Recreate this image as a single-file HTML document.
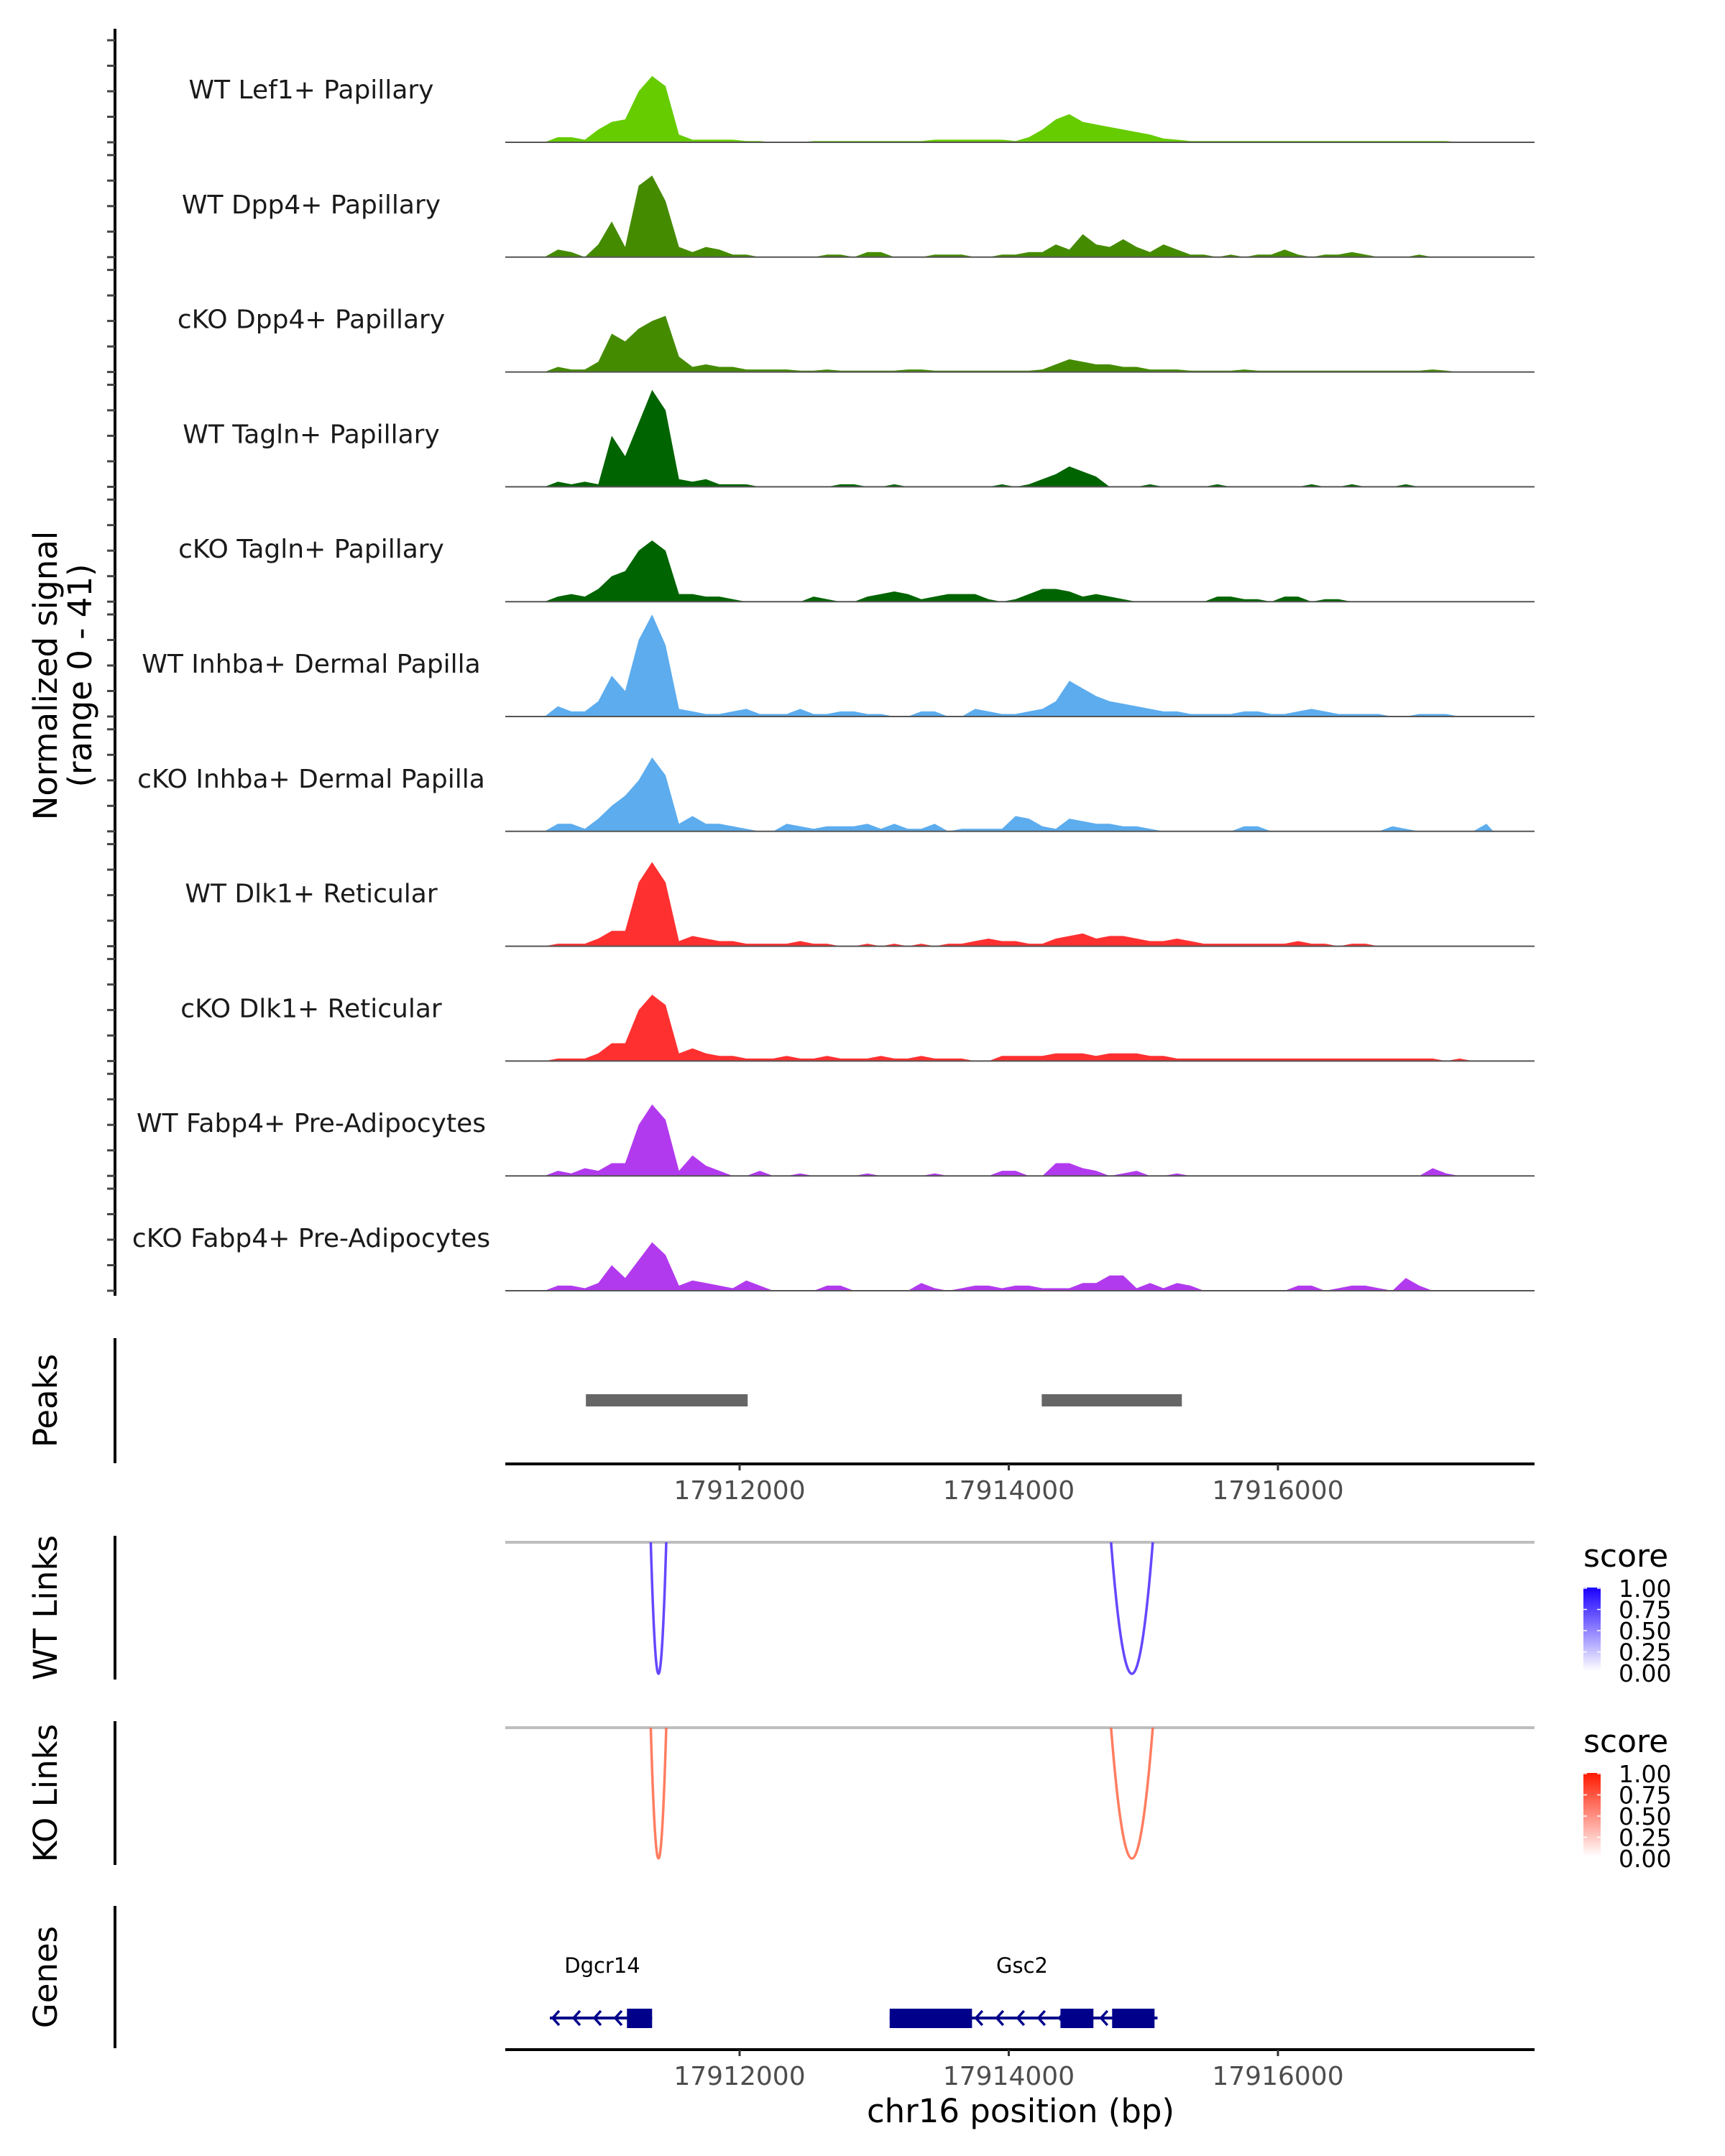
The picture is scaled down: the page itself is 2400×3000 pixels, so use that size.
<!DOCTYPE html>
<html><head><meta charset="utf-8"><style>
html,body{margin:0;padding:0;background:#fff}
svg{display:block;font-family:"DejaVu Sans","Liberation Sans",sans-serif}
</style></head><body>
<svg id="c" width="2400" height="3000" viewBox="0 0 2400 3000" xmlns="http://www.w3.org/2000/svg"></svg>
<script>
const binStart = 17910500;
const binSize = 100;
const trackNames = ["WT Lef1+ Papillary","WT Dpp4+ Papillary","cKO Dpp4+ Papillary","WT Tagln+ Papillary","cKO Tagln+ Papillary","WT Inhba+ Dermal Papilla","cKO Inhba+ Dermal Papilla","WT Dlk1+ Reticular","cKO Dlk1+ Reticular","WT Fabp4+ Pre-Adipocytes","cKO Fabp4+ Pre-Adipocytes"];
const trackColors = ["#66cc00","#458b00","#458b00","#006400","#006400","#5cacee","#5cacee","#ff3030","#ff3030","#b23aee","#b23aee"];
const sigLef1 = [0,2,2,1,5,8,9,20,26,22,3,1,1,1,1,0.5,0.5,0,0,0,0.5,0.5,0.5,0.5,0.5,0.5,0.5,0.5,0.5,1,1,1,1,1,1,0.5,2,5,9,11,8,7,6,5,4,3,1.5,1,0.5,0.5,0.5,0.5,0.5,0.5,0.5,0.5,0.5,0.5,0.5,0.5,0.5,0.5,0.5,0.5,0.5,0.5,0.5,0.5,0,0,0];
const sigWTDpp4 = [0,3,2,0,5,14,4,28,32,22,4,2,4,3,1,1,0,0,0,0,0,1,1,0,2,2,0,0,0,1,1,1,0,0,1,1,2,2,5,3,9,5,4,7,4,2,5,3,1,1,0,1,0,1,1,3,1,0,1,1,2,1,0,0,0,1,0,0,0,0,0];
const sigKODpp4 = [0,2,1,1,4,15,12,17,20,22,6,2,3,2,2,1,1,1,1,0.5,0.5,1,0.5,0.5,0.5,0.5,0.5,1,1,0.5,0.5,0.5,0.5,0.5,0.5,0.5,0.5,1,3,5,4,3,3,2,2,1,1,1,0.5,0.5,0.5,0.5,1,0.5,0.5,0.5,0.5,0.5,0.5,0.5,0.5,0.5,0.5,0.5,0.5,0.5,1,0.5,0,0,0];
const sigWTTagln = [0,2,1,2,1,20,12,25,38,30,3,2,3,1,1,1,0,0,0,0,0,0,1,1,0,0,1,0,0,0,0,0,0,0,1,0,1,3,5,8,6,4,0,0,0,1,0,0,0,0,1,0,0,0,0,0,0,1,0,0,1,0,0,0,1,0,0,0,0,0,0];
const sigKOTagln = [0,2,3,2,5,10,12,20,24,20,3,3,2,2,1,0,0,0,0,0,2,1,0,0,2,3,4,3,1,2,3,3,3,1,0,1,3,5,5,4,2,3,2,1,0,0,0,0,0,0,2,2,1,1,0,2,2,0,1,1,0,0,0,0,0,0,0,0,0,0,0];
const sigWTInhba = [0,4,2,2,6,16,10,30,40,28,3,2,1,1,2,3,1,1,1,3,1,1,2,2,1,1,0,0,2,2,0,0,3,2,1,1,2,3,6,14,11,8,6,5,4,3,2,2,1,1,1,1,2,2,1,1,2,3,2,1,1,1,1,0,0,1,1,1,0,0,0];
const sigKOInhba = [0,3,3,1,5,10,14,20,29,22,3,6,3,3,2,1,0,0,3,2,1,2,2,2,3,1,3,1,1,3,0,1,1,1,1,6,5,2,1,5,4,3,3,2,2,1,0,0,0,0,0,0,2,2,0,0,0,0,0,0,0,0,0,2,1,0,0,0,0,0,3];
const sigWTDlk1 = [0,1,1,1,3,6,6,25,33,25,2,4,3,2,2,1,1,1,1,2,1,1,0,0,1,0,1,0,1,0,1,1,2,3,2,2,1,1,3,4,5,3,4,4,3,2,2,3,2,1,1,1,1,1,1,1,2,1,1,0,1,1,0,0,0,0,0,0,0,0,0];
const sigKODlk1 = [0,1,1,1,3,7,7,20,26,22,3,5,3,2,2,1,1,1,2,1,1,2,1,1,1,2,1,1,2,1,1,1,0,0,2,2,2,2,3,3,3,2,3,3,3,2,2,1,1,1,1,1,1,1,1,1,1,1,1,1,1,1,1,1,1,1,1,0,1,0,0];
const sigWTFabp4 = [0,2,1,3,2,5,5,20,28,22,2,8,4,2,0,0,2,0,0,1,0,0,0,0,1,0,0,0,0,1,0,0,0,0,2,2,0,0,5,5,3,2,0,1,2,0,0,1,0,0,0,0,0,0,0,0,0,0,0,0,0,0,0,0,0,0,3,1,0,0,0];
const sigKOFabp4 = [0,2,2,1,3,10,5,12,19,14,2,4,3,2,1,4,2,0,0,0,0,2,2,0,0,0,0,0,3,1,0,1,2,2,1,2,2,1,1,1,3,3,6,6,1,3,1,3,2,0,0,0,0,0,0,0,2,2,0,1,2,2,1,0,5,2,0,0,0,0,0];
const signals = [sigLef1,sigWTDpp4,sigKODpp4,sigWTTagln,sigKOTagln,sigWTInhba,sigKOInhba,sigWTDlk1,sigKODlk1,sigWTFabp4,sigKOFabp4];
const peakStarts = [17910858,17914245];
const peakEnds = [17912060,17915286];
const linkStarts = [17911340,17914760];
const linkEnds = [17911455,17915070];
const wtLinkScores = [0.8,0.8];
const koLinkScores = [0.7,0.7];
const xTicks = [17912000,17914000,17916000];
const geneNames = ["Dgcr14","Gsc2"];
const geneStarts = [17910590,17913115];
const geneEnds = [17911350,17915105];
const exonStarts = [[17911163],[17913115,17914384,17914768]];
const exonEnds = [[17911350],[17913727,17914629,17915083]];
const legendTicks = ["1.00","0.75","0.50","0.25","0.00"];

const NS="http://www.w3.org/2000/svg", svg=document.getElementById('c');
function el(t,a,p){const e=document.createElementNS(NS,t);for(const k in a)e.setAttribute(k,a[k]);(p||svg).appendChild(e);return e;}
const X0=703,X1=2135;
const xs=bp=>1029+(bp-17912000)*0.18725;
const ys=(v,base)=>base-v*3.55;

let a=el('line',{x1:160,y1:40,x2:160,y2:1803,stroke:'#000','stroke-width':4});

let yt=el('text',{x:0,y:0,'font-size':45,'text-anchor':'middle',transform:'translate(103,940) rotate(-90)',fill:'#000'});

el('tspan',{x:0,dy:-24},yt).textContent='Normalized signal';
el('tspan',{x:0,dy:48},yt).textContent='(range 0 - 41)';

signals.forEach((s,k)=>{
  const base=198+159.8*k;
  const g=el('g',{});
  
  
  for(let t=0;t<=40;t+=10){el('line',{x1:149,x2:160,y1:ys(t,base),y2:ys(t,base),stroke:'#444','stroke-width':3},g);}
  let d='M'+xs(binStart)+','+base;
  s.forEach((v,i)=>{d+=' L'+xs(binStart+i*binSize+binSize/2).toFixed(1)+','+ys(v,base).toFixed(1);});
  d+=' L'+xs(binStart+s.length*binSize)+','+base+' Z';
  const p=el('path',{d:d,fill:trackColors[k]},g);
  
  el('line',{x1:X0,x2:X1,y1:base,y2:base,stroke:'#555','stroke-width':2},g);
  const lb=el('text',{x:433,y:base-61,'font-size':36,'text-anchor':'middle',fill:'#1a1a1a'},g);
  
  lb.textContent=trackNames[k];
});

function panelAxis(y1,y2,title,cy,name){
  const l=el('line',{x1:160,x2:160,y1:y1,y2:y2,stroke:'#000','stroke-width':4});
  
  const t=el('text',{x:0,y:0,'font-size':45,'text-anchor':'middle',transform:'translate(79,'+cy+') rotate(-90)',fill:'#000'});
  
  t.textContent=title;
}
function xAxis(y,name){
  const l=el('line',{x1:X0,x2:X1,y1:y,y2:y,stroke:'#000','stroke-width':4});
  
  xTicks.forEach(t=>{
    el('line',{x1:xs(t),x2:xs(t),y1:y,y2:y+9,stroke:'#333','stroke-width':3});
    const tx=el('text',{x:xs(t),y:y+49,'font-size':36,'text-anchor':'middle',fill:'#4d4d4d'});
    
    tx.textContent=t;
  });
}
panelAxis(1862,2036,'Peaks',1949,'peaks');
peakStarts.forEach((s,i)=>{
  const r=el('rect',{x:xs(s),y:1940,width:xs(peakEnds[i])-xs(s),height:17,fill:'#666'});
  
});
xAxis(2037,'peaks-x-axis');

function links(top,bottom,scores,color,cname){
  el('line',{x1:X0,x2:X1,y1:top,y2:top,stroke:'#bebebe','stroke-width':4});
  linkStarts.forEach((s,i)=>{
    const x1=xs(s),x2=xs(linkEnds[i]),cy=2*bottom-top;
    const p=el('path',{d:`M${x1},${top} Q${(x1+x2)/2},${cy} ${x2},${top}`,fill:'none',stroke:color,'stroke-width':3.5,'stroke-opacity':0.5+scores[i]*0.5});
    
  });
}
panelAxis(2137,2337,'WT Links',2237,'wt-links');
links(2146,2329,wtLinkScores,'#5533ff','wt');
panelAxis(2395,2595,'KO Links',2495,'ko-links');
links(2404,2586,koLinkScores,'#ff6644','ko');

function legend(oy,col,gid,name){
  const g=el('g',{});
  el('text',{x:2203,y:oy,'font-size':44,fill:'#000'},g).textContent='score';
  const defs=el('defs',{},g);
  const lg=el('linearGradient',{id:gid,x1:0,y1:0,x2:0,y2:1},defs);
  el('stop',{offset:0,'stop-color':col},lg);el('stop',{offset:1,'stop-color':'#ffffff'},lg);
  el('rect',{x:2203,y:oy+29,width:24,height:116,fill:'url(#'+gid+')'},g);
  legendTicks.forEach((t,i)=>{
    const yy=oy+30+i*29.5;
    el('line',{x1:2203,x2:2208,y1:yy,y2:yy,stroke:'#fff','stroke-width':1.5},g);
    el('line',{x1:2222,x2:2227,y1:yy,y2:yy,stroke:'#fff','stroke-width':1.5},g);
    el('text',{x:2252,y:yy+12,'font-size':33,fill:'#000'},g).textContent=t;
  });
}
legend(2180,'#1a00ff','gw','wt-score-legend');
legend(2438,'#ff1a00','gk','ko-score-legend');

panelAxis(2652,2850,'Genes',2751,'genes');
geneNames.forEach((n,i)=>{
  const g=el('g',{});
  const x1=xs(geneStarts[i]),x2=xs(geneEnds[i]),y=2808;
  el('line',{x1:x1,x2:x2,y1:y,y2:y,stroke:'#00008b','stroke-width':4},g);
  for(let x=x1+4;x<x2-6;x+=29){el('polyline',{points:`${x+9},${y-10} ${x},${y} ${x+9},${y+10}`,fill:'none',stroke:'#00008b','stroke-width':3.5},g);}
  exonStarts[i].forEach((s,j)=>{el('rect',{x:xs(s),y:y-13,width:xs(exonEnds[i][j])-xs(s),height:27,fill:'#00008b'},g);});
  const t=el('text',{x:(i==0?838:1422),y:2745,'font-size':29,'text-anchor':'middle',fill:'#000'},g);
  t.textContent=n;
});
xAxis(2852,'genes-x-axis');
const xt=el('text',{x:1420,y:2953,'font-size':45,'text-anchor':'middle',fill:'#000'});

xt.textContent='chr16 position (bp)';
</script>
</body></html>
